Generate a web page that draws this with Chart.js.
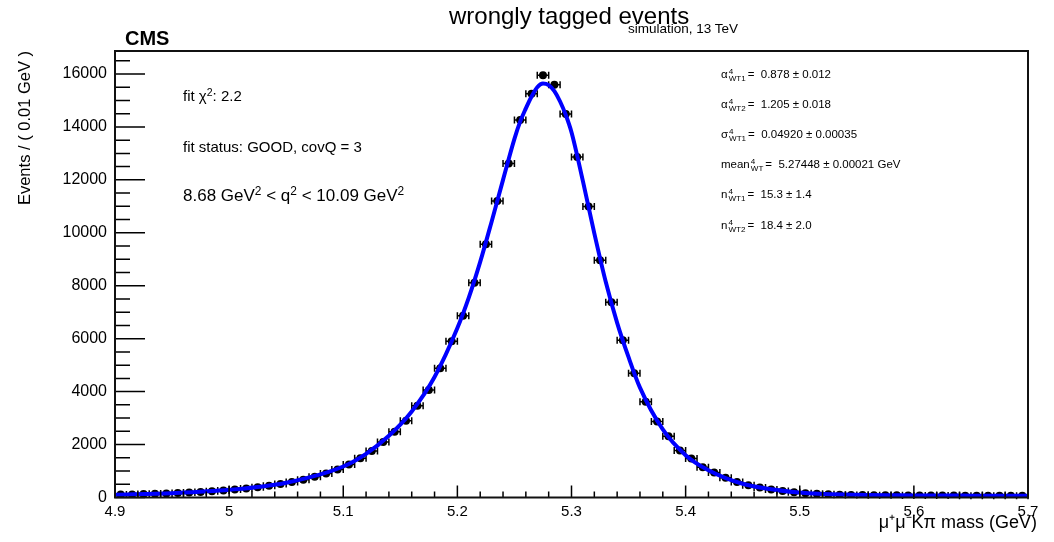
<!DOCTYPE html>
<html>
<head>
<meta charset="utf-8">
<script src="https://cdn.jsdelivr.net/npm/chart.js@4.4.1/dist/chart.umd.min.js"></script>
<style>
  body { margin: 0; background: #fff; }
  #wrap { position: relative; width: 1054px; height: 542px; font-family: "Liberation Sans", Arial, Helvetica, sans-serif; color: #000; }
  #wrap canvas { position: absolute; left: 0; top: 0; }
  .lbl { position: absolute; white-space: nowrap; line-height: 1; }
  .ss { display: inline-block; font-size: 0.7em; line-height: 0.85; vertical-align: -0.38em; margin: 0 2px 0 1px; }
  .ss span { display: block; }
  sup { font-size: 0.7em; line-height: 0; vertical-align: 0.5em; }
</style>
</head>
<body>
<div id="wrap">
  <canvas id="myChart" width="1054" height="542"></canvas>
  <div class="lbl" style="left:449px; top:4px; font-size:24px;">wrongly tagged events</div>
  <div class="lbl" style="left:628px; top:21.5px; font-size:13.5px;">simulation, 13 TeV</div>
  <div class="lbl" style="left:125px; top:28px; font-size:20px; font-weight:bold;">CMS</div>
  <div class="lbl" style="left:183px; top:88px; font-size:15px;">fit &chi;<sup>2</sup>: 2.2</div>
  <div class="lbl" style="left:183px; top:139px; font-size:15px;">fit status: GOOD, covQ = 3</div>
  <div class="lbl" style="left:183px; top:186.5px; font-size:17px;">8.68 GeV<sup>2</sup> &lt; q<sup>2</sup> &lt; 10.09 GeV<sup>2</sup></div>
  <div class="lbl" style="left:721px; top:69px; font-size:11.5px;">&alpha;<span class="ss"><span>4</span><span>WT1</span></span>= &nbsp;0.878 &plusmn; 0.012</div>
  <div class="lbl" style="left:721px; top:99px; font-size:11.5px;">&alpha;<span class="ss"><span>4</span><span>WT2</span></span>= &nbsp;1.205 &plusmn; 0.018</div>
  <div class="lbl" style="left:721px; top:129px; font-size:11.5px;">&sigma;<span class="ss"><span>4</span><span>WT1</span></span>= &nbsp;0.04920 &plusmn; 0.00035</div>
  <div class="lbl" style="left:721px; top:159px; font-size:11.5px;">mean<span class="ss"><span>4</span><span>WT</span></span>= &nbsp;5.27448 &plusmn; 0.00021 GeV</div>
  <div class="lbl" style="left:721px; top:189px; font-size:11.5px;">n<span class="ss"><span>4</span><span>WT1</span></span>= &nbsp;15.3 &plusmn; 1.4</div>
  <div class="lbl" style="left:721px; top:220px; font-size:11.5px;">n<span class="ss"><span>4</span><span>WT2</span></span>= &nbsp;18.4 &plusmn; 2.0</div>
</div>
<script>
// bin centres (0.01 GeV bins)
const massBins = [
  4.905, 4.915, 4.925, 4.935, 4.945, 4.955, 4.965, 4.975, 4.985, 4.995,
  5.005, 5.015, 5.025, 5.035, 5.045, 5.055, 5.065, 5.075, 5.085, 5.095,
  5.105, 5.115, 5.125, 5.135, 5.145, 5.155, 5.165, 5.175, 5.185, 5.195,
  5.205, 5.215, 5.225, 5.235, 5.245, 5.255, 5.265, 5.275, 5.285, 5.295,
  5.305, 5.315, 5.325, 5.335, 5.345, 5.355, 5.365, 5.375, 5.385, 5.395,
  5.405, 5.415, 5.425, 5.435, 5.445, 5.455, 5.465, 5.475, 5.485, 5.495,
  5.505, 5.515, 5.525, 5.535, 5.545, 5.555, 5.565, 5.575, 5.585, 5.595,
  5.605, 5.615, 5.625, 5.635, 5.645, 5.655, 5.665, 5.675, 5.685, 5.695
];
const events = [
  110, 118, 128, 140, 155, 170, 190, 212, 238, 268,
  302, 342, 390, 445, 510, 585, 675, 780, 905, 1060,
  1250, 1480, 1760, 2100, 2480, 2900, 3470, 4060, 4880, 5900,
  6870, 8110, 9570, 11200, 12620, 14260, 15250, 15950, 15590, 14490,
  12860, 10990, 8960, 7380, 5940, 4690, 3620, 2870, 2310, 1780,
  1470, 1140, 940, 750, 590, 465, 375, 305, 245, 200,
  165, 140, 120, 105, 98, 93, 89, 86, 83, 80,
  78, 76, 74, 72, 70, 69, 67, 66, 64, 63
];
// fitted pdf
const fitMass = [
  4.9, 4.95, 5.0, 5.05, 5.1, 5.12, 5.14, 5.16, 5.18, 5.2,
  5.21, 5.22, 5.23, 5.24, 5.25, 5.255, 5.26, 5.265, 5.27, 5.275,
  5.28, 5.285, 5.29, 5.295, 5.3, 5.31, 5.32, 5.33, 5.34, 5.35,
  5.36, 5.38, 5.4, 5.42, 5.45, 5.5, 5.55, 5.6, 5.65, 5.7
];
const fitEvents = [
  105, 165, 290, 560, 1170, 1650, 2330, 3250, 4550, 6400,
  7550, 8900, 10420, 12000, 13550, 14200, 14700, 15150, 15500, 15640,
  15580, 15350, 14960, 14450, 13800, 11950, 9980, 8150, 6600, 5300,
  4150, 2570, 1600, 1030, 520, 185, 100, 80, 70, 62
];
const binHalfWidth = 0.005;
const xTicks = [4.9, 5.0, 5.1, 5.2, 5.3, 5.4, 5.5, 5.6, 5.7];
const yTicks = [0, 2000, 4000, 6000, 8000, 10000, 12000, 14000, 16000];
const xTitle = 'μ⁺μ⁻Kπ mass (GeV)';

const font = '"Liberation Sans", Arial, Helvetica, sans-serif';

// ROOT style frame with ticks pointing inwards
const rootFrame = {
  id: 'rootFrame',
  afterDraw(chart) {
    const {ctx, chartArea: a, scales: {x, y}} = chart;
    ctx.save();
    ctx.strokeStyle = '#000';
    ctx.lineWidth = 1.5;
    ctx.beginPath();
    for (let v = 4.9; v <= 5.7001; v += 0.02) {
      const px = x.getPixelForValue(v);
      const major = Math.abs(v * 10 - Math.round(v * 10)) < 1e-6;
      ctx.moveTo(px, a.bottom);
      ctx.lineTo(px, a.bottom - (major ? 12 : 6));
    }
    for (let v = 0; v <= y.max; v += 500) {
      const py = y.getPixelForValue(v);
      ctx.moveTo(a.left, py);
      ctx.lineTo(a.left + (v % 2000 === 0 ? 30 : 15), py);
    }
    ctx.stroke();
    ctx.lineWidth = 2;
    ctx.strokeStyle = '#111';
    ctx.strokeRect(a.left, a.top, a.right - a.left, a.bottom - a.top);

    // x axis title, ROOT puts it slightly past the frame
    ctx.fillStyle = '#000';
    ctx.font = '18px ' + font;
    ctx.textAlign = 'right';
    ctx.textBaseline = 'alphabetic';
    ctx.fillText(xTitle, a.right + 9, 528);
    ctx.restore();
  }
};

// horizontal bin-width and poisson error bars
const errorBars = {
  id: 'errorBars',
  beforeDatasetsDraw(chart) {
    const {ctx, scales: {x, y}} = chart;
    ctx.save();
    ctx.strokeStyle = '#000';
    ctx.lineWidth = 1.5;
    ctx.beginPath();
    for (let i = 0; i < massBins.length; i++) {
      const x0 = x.getPixelForValue(massBins[i] - binHalfWidth);
      const x1 = x.getPixelForValue(massBins[i] + binHalfWidth);
      const py = y.getPixelForValue(events[i]);
      const err = Math.sqrt(events[i]);
      ctx.moveTo(x0, py); ctx.lineTo(x1, py);
      ctx.moveTo(x0, py - 3.5); ctx.lineTo(x0, py + 3.5);
      ctx.moveTo(x1, py - 3.5); ctx.lineTo(x1, py + 3.5);
      ctx.moveTo((x0 + x1) / 2, y.getPixelForValue(events[i] + err));
      ctx.lineTo((x0 + x1) / 2, y.getPixelForValue(events[i] - err));
    }
    ctx.stroke();
    ctx.restore();
  }
};

new Chart(document.getElementById('myChart'), {
  type: 'scatter',
  data: {
    datasets: [{
      type: 'line',
      data: fitMass.map((m, i) => ({x: m, y: fitEvents[i]})),
      borderColor: '#0000ff',
      borderWidth: 4,
      pointRadius: 0,
      fill: false,
      cubicInterpolationMode: 'monotone',
      order: 0
    }, {
      data: massBins.map((m, i) => ({x: m, y: events[i]})),
      backgroundColor: '#000',
      borderColor: '#000',
      pointRadius: 4,
      borderWidth: 0,
      order: 1
    }]
  },
  options: {
    responsive: false,
    animation: false,
    events: [],
    layout: { padding: { left: 0, right: 26, top: 51, bottom: 0 } },
    plugins: { legend: { display: false }, tooltip: { enabled: false } },
    scales: {
      x: {
        type: 'linear',
        min: 4.9,
        max: 5.7,
        afterBuildTicks: s => { s.ticks = xTicks.map(v => ({value: v})); },
        afterFit: s => { s.height = 44.5; },
        grid: { display: false, drawTicks: false },
        border: { display: false },
        ticks: {
          padding: 5,
          color: '#000',
          font: { family: font, size: 15 },
          maxRotation: 0,
          callback: v => String(Math.round(v * 10) / 10)
        }
      },
      y: {
        min: 0,
        max: 16868,
        afterBuildTicks: s => { s.ticks = yTicks.map(v => ({value: v})); },
        afterFit: s => { s.width = 115; },
        grid: { display: false, drawTicks: false },
        border: { display: false },
        ticks: {
          padding: 8,
          color: '#000',
          font: { family: font, size: 16 },
          callback: v => String(v)
        },
        title: {
          display: true,
          text: 'Events / ( 0.01 GeV )',
          align: 'end',
          color: '#000',
          font: { family: font, size: 16.5 },
          padding: { top: 16, bottom: 0 }
        }
      }
    }
  },
  plugins: [errorBars, rootFrame]
});
</script>
</body>
</html>
